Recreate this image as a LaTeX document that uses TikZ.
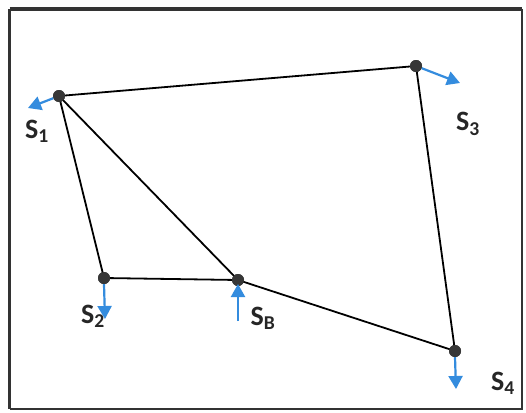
\documentclass[tikz,border=0pt]{standalone}
\usepackage{fontspec}
\setmainfont{Carlito}
\usetikzlibrary{arrows.meta}
\definecolor{arrblue}{RGB}{52,140,222}
\definecolor{dotgray}{RGB}{55,55,55}
\tikzset{
  pt/.style={circle,fill=dotgray,inner sep=0pt,minimum size=12pt},
  bar/.style={black,line width=1.8pt},
  force/.style={arrblue,line width=2.2pt,-{Triangle[length=13pt,width=14pt]}},
  lbl/.style={font=\fontsize{28}{32}\selectfont\bfseries,inner sep=0pt,text=black!85}
}
\begin{document}
\begin{tikzpicture}[x=1pt,y=-1pt]
\useasboundingbox (0,0) rectangle (526,412);
\fill[white] (0,0) rectangle (526,412);
% frame
\draw[black!80,line width=3.5pt] (9.5,9) -- (522,9);
\draw[black!80,line width=3.5pt] (9.5,9) -- (9.5,409);
\draw[black!80,line width=1.5pt] (522,9) -- (522,409) -- (9.5,409);
% nodes
\node[pt] (s1) at (59,96) {};
\node[pt] (s3) at (416,66) {};
\node[pt] (s2) at (104,278) {};
\node[pt] (sb) at (238,280) {};
\node[pt] (s4) at (455,351) {};
% bars
\draw[bar] (s1.center) -- (s3.center);
\draw[bar] (s3.center) -- (s4.center);
\draw[bar] (s1.center) -- (s2.center);
\draw[bar] (s1.center) -- (sb.center);
\draw[bar] (s2.center) -- (sb.center);
\draw[bar] (sb.center) -- (s4.center);
\node[pt] at (s1) {};
\node[pt] at (s3) {};
\node[pt] at (s2) {};
\node[pt] at (sb) {};
\node[pt] at (s4) {};
% force arrows
\coordinate (f1) at (28,108);
\coordinate (f3) at (460,83);
\coordinate (f2) at (105,319);
\coordinate (fb0) at (238,321);
\coordinate (fb) at (238,284);
\coordinate (f4) at (456,389);
\draw[force] (s1) -- (f1);
\draw[force] (s3) -- (f3);
\draw[force] (s2.south) -- (f2);
\draw[force] (fb0) -- (fb);
\draw[force] (s4.south) -- (f4);
% labels
\node[lbl] (l1) at (37,131) {S\textsubscript{1}};
\node[lbl] (l3) at (468,124) {S\textsubscript{3}};
\node[lbl] (l2) at (93,316) {S\textsubscript{2}};
\node[lbl] (lb) at (263,318) {S\textsubscript{B}};
\node[lbl] (l4) at (503,383) {S\textsubscript{4}};
\end{tikzpicture}
\end{document}
